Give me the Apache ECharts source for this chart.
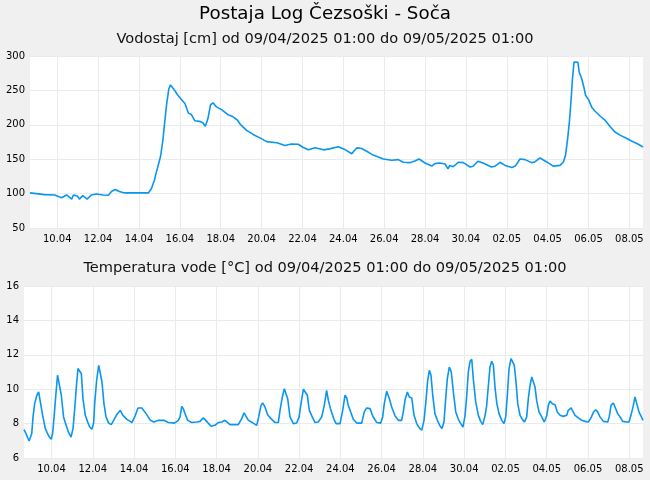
<!DOCTYPE html>
<html>
<head>
<meta charset="utf-8">
<script src="https://cdn.jsdelivr.net/npm/echarts@6/dist/echarts.min.js"></script>
<style>
html,body{margin:0;padding:0;background:#f0f0f0;}
#chart{width:650px;height:480px;}
</style>
</head>
<body>
<div id="chart"></div>
<script>
// Hours since 09/04/2025 01:00
var tickHours = [32,80,128,176,224,272,320,368,416,464,512,560,608,656,704];
var tickLabels = ['10.04','12.04','14.04','16.04','18.04','20.04','22.04','24.04','26.04','28.04','30.04','02.05','04.05','06.05','08.05'];

var levelHours = [0,17,29,37,43,49,51,56,58,62,67,72,78,86,92,96,100,105,111,139,142.5,146,148,151,153.5,156,158,160.5,163,165,167,170,173,177,182,186,189.5,193.5,199,203,206,209,212,215,219,225,232,238,243.5,247,254.5,262,270,278,290,299.5,307,315,321,327,335,344.5,352,362,370,378,380.5,384,389.5,395.5,403,415,425,432.5,438.5,446,452,457,464,472,475.5,481,487.5,491,493,497,503,509,517,520.5,526,532,542,546,552,558,566,570,575.5,581.5,589,593,599,607,614.5,622.5,626.5,629,631.5,633.5,635.5,637,639,641,643.5,645,648,650.5,652.5,656,660,663.5,669.5,675.5,681,687,693,701,706.5,714.5,720];
var levelValues = [101,98.5,98,94,98,92,98,96,92,97,92,98,99.5,98,97.5,103.5,106,103,101,101,107,119,129,143,155,177,201,230,252,258,256,250,244,238,231,217,215,206,205,203,198,209,229,232,226,222,215,212,207,200.7,192,186,181,175.6,174,170,172,171.7,167,163.6,166.5,163.6,165,168,164,158,162,166.5,165.5,161.5,156,150.3,148.4,149.4,145.5,145,147.4,150.3,144.5,140,143.6,144.5,143,136,141,139,145.5,145,138.7,139.7,147,144.5,138.7,139.7,145.5,141,138,140,150.3,149.4,145,146,151.8,146,140,141,146,155.7,180,204,235.6,264.7,291.3,293.8,291,276.8,267,255,243,236.6,225,220,212.8,206.5,197.8,189.5,185,180,176.5,171.7,167.7];

var tempHours = [0,2.3,4.7,6,8,9,10.5,12.4,15,17,19,21.7,24.8,28.7,31.8,33.4,35,37,39,41,43.4,46,49,52,54.7,57,59,61,62.8,64.8,66.7,68.6,71.3,74,76.4,79,81,82.2,84.5,86.9,89.2,90.7,93,95.4,98.5,101.5,104.3,107.4,112,115,119.8,125.6,129.5,132.6,137,142,147,151,156.7,162.5,168,175,179.5,181.5,183.5,185.3,187.3,190.4,195,201,204.7,208.6,212.5,217.5,222,226,230,233.8,239.6,249.3,253.2,256,258,261,265.6,270.7,273,275.7,277.6,280.3,283.4,287.3,292,295.8,297.8,300.5,302.8,304.4,306.7,309.4,313.3,317.2,320,322.2,325,327,329.5,331.9,335.3,338.5,342.3,346.3,349.3,352,354,357,360.6,363,367.6,370.7,373.4,375.4,377.2,380,383,387,392.8,395.8,398.6,402.5,405.6,410.3,415,417.2,419.1,421.9,425,427.7,431.6,435.4,439.3,441.2,443.5,445.9,448.2,451,453.7,456.8,459.8,462.6,465.3,467.6,469.6,471.5,473.4,475.4,478,480.8,483.9,486.2,488.5,490.5,492.4,494.7,497,499.4,502.2,505.2,508,510.6,513,515,516.8,518.8,520.8,522.6,525.4,528.5,531.2,533.6,536.2,538,540,542,544,546,548,550,552.5,555.7,558.3,560.3,562.2,564.2,566.5,568.5,570.3,572.3,574.3,577,579.6,582,584.7,586.6,588.6,590.6,592.4,594.4,596.3,599,602.2,605.2,608,609.9,611.8,614.5,617.7,620.3,623.5,627.3,631.3,633.1,636.3,638.3,641,644.8,648.7,652.6,656.4,659.5,662.2,665,667.3,670,673.9,679,680.8,682.8,685.5,687.5,690.6,693.3,696.4,701,703.7,706,708.4,710.7,712.7,715.3,717.7,720];
var tempValues = [7.65,7.42,7.13,6.99,6.93,7.42,8.39,9.16,9.65,9.84,9.26,8.48,7.71,7.28,7.09,7.47,8.39,9.65,10.81,10.71,9.65,8.39,7.9,7.47,7.22,7.71,8.87,10.22,11.2,11.29,10.9,9.45,8.48,8.1,7.8,7.67,8.03,9.16,10.52,11.39,11.35,10.42,9.16,8.39,8.03,7.94,8.19,8.48,8.77,8.48,8.25,8.06,8.48,8.91,8.91,8.58,8.19,8.09,8.19,8.19,8.06,8.03,8.19,8.39,9.0,8.87,8.58,8.19,8.06,8.09,8.13,8.33,8.13,7.84,7.9,8.06,8.09,8.19,7.94,7.94,8.29,8.62,8.58,8.19,8.06,7.9,8.39,9.06,9.2,8.97,8.52,8.29,8.06,8.06,8.77,9.55,10.03,10.0,9.45,8.39,8.0,8.03,8.39,9.16,10.0,9.93,9.65,8.77,8.39,8.06,8.09,8.39,9.06,9.93,9.35,8.77,8.25,8.0,8.0,8.77,9.65,9.49,9.06,8.68,8.25,8.03,8.03,8.68,8.91,8.87,8.44,8.06,8.03,8.39,9.16,9.88,9.45,8.97,8.44,8.19,8.19,8.68,9.45,9.84,9.55,9.49,8.48,8.0,7.75,7.61,8.19,9.35,10.52,11.1,10.81,9.65,8.58,8.19,7.86,7.71,8.09,9.45,10.61,11.29,11.0,9.84,8.68,8.25,8.0,7.8,8.48,9.65,11.0,11.62,11.74,10.61,9.26,8.48,8.13,7.94,8.45,8.97,10.13,11.29,11.62,11.39,10.03,9.16,8.58,8.19,8.0,8.39,9.65,11.2,11.78,11.87,11.39,10.42,9.16,8.48,8.25,8.09,8.39,9.45,10.22,10.71,10.61,10.13,9.35,8.68,8.39,8.09,8.44,9.06,9.31,9.16,9.1,8.68,8.48,8.42,8.48,8.77,8.91,9.02,8.48,8.33,8.19,8.13,8.09,8.33,8.64,8.81,8.68,8.39,8.13,8.09,8.42,9.06,9.2,9.1,8.58,8.39,8.13,8.09,8.09,8.48,8.97,9.55,9.16,8.68,8.44,8.19];

function pairs(xs, ys){ return xs.map(function(x,i){ return [x, ys[i]]; }); }
function fmt(v){ var i = tickHours.indexOf(Math.round(v)); return i >= 0 ? tickLabels[i] : ''; }

var FONT = 'DejaVu Sans';
var lineColor = '#0a96ee';
var gridColor = '#ebebeb';

function xAxisDef(gridIndex){
  return {
    type:'value', gridIndex:gridIndex, min:0, max:720,
    axisLine:{show:false},
    axisTick:{show:false, customValues:tickHours},
    axisLabel:{customValues:tickHours, formatter:fmt, color:'#000', fontFamily:FONT, fontSize:10, margin:6},
    splitLine:{show:true, lineStyle:{color:gridColor, width:1}}
  };
}
function yAxisDef(gridIndex, mn, mx, itv){
  return {
    type:'value', gridIndex:gridIndex, min:mn, max:mx, interval:itv,
    axisLine:{show:false}, axisTick:{show:false},
    axisLabel:{color:'#000', fontFamily:FONT, fontSize:10, margin:5},
    splitLine:{show:true, lineStyle:{color:gridColor, width:1}}
  };
}

var chart = echarts.init(document.getElementById('chart'), null, {renderer:'canvas'});
chart.setOption({
  animation:false,
  backgroundColor:'#f0f0f0',
  title:[
    {text:'Postaja Log Čezsoški - Soča', left:'center', top:5, padding:0,
     textStyle:{fontFamily:FONT, fontSize:18.3, fontWeight:'normal', color:'#000'}},
    {text:'Vodostaj [cm] od 09/04/2025 01:00 do 09/05/2025 01:00', left:'center', top:32, padding:0,
     textStyle:{fontFamily:FONT, fontSize:14.6, fontWeight:'normal', color:'#111'}},
    {text:'Temperatura vode [°C] od 09/04/2025 01:00 do 09/05/2025 01:00', left:'center', top:261, padding:0,
     textStyle:{fontFamily:FONT, fontSize:14.6, fontWeight:'normal', color:'#111'}}
  ],
  grid:[
    {left:30, right:7, top:56, height:172, show:true, backgroundColor:'#fff', borderWidth:0},
    {left:24, right:7, top:286, height:172, show:true, backgroundColor:'#fff', borderWidth:0}
  ],
  xAxis:[xAxisDef(0), xAxisDef(1)],
  yAxis:[yAxisDef(0,50,300,50), yAxisDef(1,6,16,2)],
  series:[
    {type:'line', xAxisIndex:0, yAxisIndex:0, data:pairs(levelHours, levelValues), showSymbol:false,
     lineStyle:{color:lineColor, width:1.6}, itemStyle:{color:lineColor}},
    {type:'line', xAxisIndex:1, yAxisIndex:1, data:pairs(tempHours, tempValues), showSymbol:false,
     lineStyle:{color:lineColor, width:1.6}, itemStyle:{color:lineColor}}
  ]
});
</script>
</body>
</html>
